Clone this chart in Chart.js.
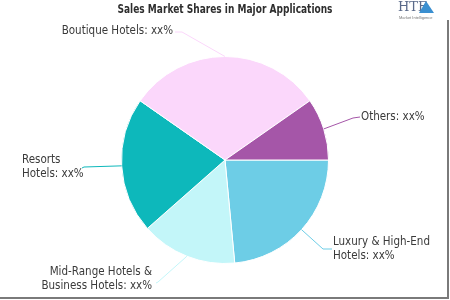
<!DOCTYPE html>
<html>
<head>
<meta charset="utf-8">
<script src="https://cdn.jsdelivr.net/npm/chart.js@4"></script>
<style>
  html, body { margin: 0; padding: 0; background: #fff; }
  #wrap { position: relative; width: 450px; height: 300px; }
  #frameR { position: absolute; left: 447px; top: 20px; width: 2px; height: 279px; background: #7a7a7a; }
  #frameB { position: absolute; left: 0; top: 297px; width: 449px; height: 2px; background: #7a7a7a; }
</style>
</head>
<body>
<div id="wrap">
  <canvas id="pieChart" width="450" height="300"></canvas>
  <div id="frameR"></div>
  <div id="frameB"></div>
</div>
<script>
// Data (clockwise from 3 o'clock)
const categories = ["Luxury & High-End Hotels", "Mid-Range Hotels & Business Hotels", "Resorts Hotels", "Boutique Hotels", "Others"];
const shares = [23.5, 15, 21.2, 30.6, 9.7];
const labelLines = [
    ["Luxury & High-End", "Hotels: xx%"],
    ["Mid-Range Hotels &", "Business Hotels: xx%"],
    ["Resorts", "Hotels: xx%"],
    ["Boutique Hotels: xx%"],
    ["Others: xx%"]
];
const colors = ["#6dcde6", "#c3f6f9", "#0db8bb", "#fbd7fb", "#a556a8"];
const titleText = "Sales Market Shares in Major Applications";

// where the leader line bends and where the text goes
const labelLayout = [
    { elbow: [323, 249], end: [332, 249], textX: 333, textY: 242, align: "left" },
    { elbow: [158, 282], end: [156, 283], textX: 152, textY: 272, align: "right" },
    { elbow: [84, 167], end: [82, 168], textX: 22, textY: 160, align: "left" },
    { elbow: [182, 32], end: [175, 32], textX: 173, textY: 31, align: "right" },
    { elbow: [353, 118], end: [360, 117], textX: 361, textY: 117, align: "left" }
];

// Draw outside labels with leader lines
const outsideLabels = {
    id: "outsideLabels",
    afterDatasetsDraw(chart) {
        const ctx = chart.ctx;
        const meta = chart.getDatasetMeta(0);
        ctx.save();
        ctx.font = "11.5px 'DejaVu Sans Condensed', 'DejaVu Sans', sans-serif";
        ctx.textBaseline = "middle";
        meta.data.forEach((arc, i) => {
            const mid = (arc.startAngle + arc.endAngle) / 2;
            const px = arc.x + Math.cos(mid) * arc.outerRadius;
            const py = arc.y + Math.sin(mid) * arc.outerRadius;
            const lay = labelLayout[i];
            ctx.strokeStyle = colors[i];
            ctx.lineWidth = 1;
            ctx.beginPath();
            ctx.moveTo(px, py);
            ctx.lineTo(lay.elbow[0], lay.elbow[1]);
            ctx.lineTo(lay.end[0], lay.end[1]);
            ctx.stroke();
            ctx.fillStyle = "#3a3a3a";
            ctx.textAlign = lay.align;
            labelLines[i].forEach((t, k) => {
                ctx.fillText(t, lay.textX, lay.textY + k * 14);
            });
        });
        // title, squeezed to look like a condensed heavy face
        ctx.save();
        ctx.font = "bold 13px 'DejaVu Sans', sans-serif";
        const w = ctx.measureText(titleText).width;
        const sx = 215 / w;
        ctx.translate(225, 10);
        ctx.scale(sx, 1);
        ctx.fillStyle = "#2e2e2e";
        ctx.textAlign = "center";
        ctx.fillText(titleText, 0, 0);
        ctx.restore();
        // small logo
        ctx.font = "13px 'DejaVu Serif', serif";
        ctx.fillStyle = "#5a6a8a";
        ctx.textAlign = "left";
        ctx.fillText("HTF", 398, 8);
        ctx.fillStyle = "#3a8fd0";
        ctx.beginPath();
        ctx.moveTo(426, 1);
        ctx.lineTo(434, 13);
        ctx.lineTo(419, 13);
        ctx.closePath();
        ctx.fill();
        ctx.font = "4px sans-serif";
        ctx.fillStyle = "#777";
        ctx.fillText("Market Intelligence", 399, 18);
        ctx.restore();
    }
};

const createPieChart = (elementId) => {
    var ctx = document.getElementById(elementId).getContext("2d");
    var chart = new Chart(ctx, {
        type: "pie",
        data: {
            labels: categories,
            datasets: [{
                data: shares,
                backgroundColor: colors,
                borderColor: "#ffffff",
                borderWidth: 1
            }]
        },
        options: {
            responsive: false,
            animation: false,
            rotation: 90,
            layout: { padding: { top: 56, bottom: 36, left: 0, right: 0 } },
            plugins: {
                legend: { display: false },
                tooltip: { enabled: false }
            }
        },
        plugins: [outsideLabels]
    });
}

createPieChart("pieChart");
</script>
</body>
</html>
